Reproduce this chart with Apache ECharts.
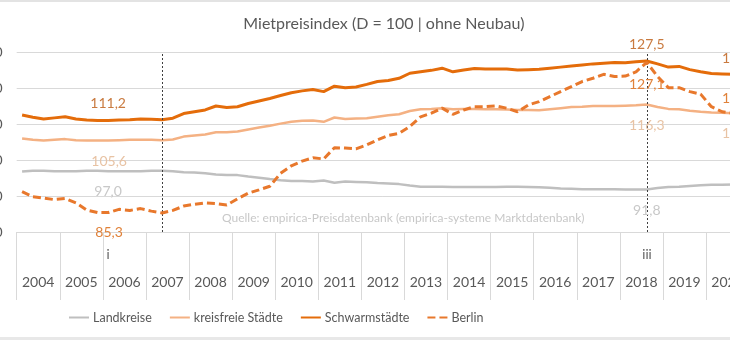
<!DOCTYPE html>
<html>
<head>
<meta charset="utf-8">
<script src="https://cdn.jsdelivr.net/npm/echarts@6/dist/echarts.min.js"></script>
<style>
html,body{margin:0;padding:0;background:#fff;overflow:hidden;width:730px;height:340px;}
#c{width:770px;height:340px;}
</style>
</head>
<body>
<div id="c"></div>
<script>
// ---- data ----
const years = ['2004','2005','2006','2007','2008','2009','2010','2011','2012','2013','2014','2015','2016','2017','2018','2019','2020'];
const yTicks = [80, 90, 100, 110, 120, 130];
// quarterly values 2004Q1 .. 2020Q4
const landkreise = [
  96.8, 97.0, 97.0, 96.9,  96.9, 96.9, 97.0, 97.0,  96.9, 96.9, 96.9, 96.9,  97.0, 97.0, 96.9, 96.6,
  96.5, 96.3, 96.0, 95.8,  95.8, 95.4, 95.1, 94.7,  94.4, 94.2, 94.2, 94.0,  94.3, 93.7, 94.0, 93.9,
  93.8, 93.6, 93.5, 93.3,  92.9, 92.6, 92.6, 92.6,  92.5, 92.5, 92.5, 92.5,  92.5, 92.6, 92.6, 92.5,
  92.4, 92.3, 92.1, 92.0,  91.9, 91.9, 91.9, 91.9,  91.8, 91.8, 91.8, 92.2,  92.5, 92.6, 92.8, 93.0,
  93.1, 93.1, 93.2, 93.2
];
const kreisfreie = [
  106.0, 105.6, 105.4, 105.6,  105.8, 105.5, 105.4, 105.4,  105.4, 105.5, 105.6, 105.6,  105.6, 105.5, 105.7, 106.5,
  106.8, 107.1, 107.7, 107.7,  107.9, 108.5, 109.0, 109.5,  110.1, 110.6, 110.9, 111.0,  110.6, 111.8, 111.4, 111.5,
  111.6, 112.0, 112.4, 112.7,  113.6, 114.1, 114.2, 114.4,  114.1, 114.2, 114.2, 114.1,  114.1, 114.0, 113.9, 113.9,
  113.8, 114.1, 114.4, 114.7,  114.8, 115.0, 115.0, 115.0,  115.1, 115.2, 115.4, 114.7,  114.2, 114.1, 113.7, 113.4,
  113.2, 113.1, 113.0, 112.9
];
const schwarm = [
  112.5, 111.9, 111.4, 111.7,  112.0, 111.4, 111.1, 111.0,  111.0, 111.1, 111.2, 111.4,  111.3, 111.2, 111.6, 112.9,
  113.4, 113.9, 115.0, 114.6,  114.8, 115.7, 116.4, 117.1,  117.9, 118.7, 119.2, 119.6,  119.0, 120.5, 120.1, 120.3,
  121.0, 121.8, 122.1, 122.7,  124.1, 124.5, 124.9, 125.5,  124.5, 125.0, 125.4, 125.3,  125.3, 125.3, 125.0, 125.1,
  125.2, 125.5, 125.8, 126.1,  126.4, 126.7, 126.9, 127.1,  127.0, 127.3, 127.5, 126.7,  125.8, 126.0, 125.1, 124.5,
  124.0, 123.9, 123.8, 123.8
];
const berlin = [
  91.2, 89.8, 89.4, 89.0,  89.3, 88.1, 86.1, 85.4,  85.4, 86.3, 86.0, 86.5,  85.8, 85.3, 86.0, 87.2,
  87.7, 88.1, 87.9, 87.5,  89.2, 90.8, 91.7, 92.7,  96.3, 98.4, 99.7, 100.6,  100.3, 103.4, 103.3, 103.1,
  104.2, 105.6, 106.8, 107.4,  109.3, 112.0, 113.0, 114.4,  112.7, 113.9, 114.8, 114.8,  115.0, 114.4, 113.4, 115.3,
  116.2, 117.6, 119.0, 120.4,  121.8, 122.7, 123.8, 123.2,  123.3, 124.5, 127.1, 123.2,  120.1, 120.1, 119.0, 118.3,
  114.8, 113.4, 113.0, 112.8
];
// time position of each quarter (decimal years, centre of the quarter)
const qx = [];
years.forEach(y => { for (let q = 1; q <= 4; q++) qx.push(+y + (q - 0.5) / 4); });
const idx2007 = 13;  // 2007 Q2
const idx2018 = 58;  // 2018 Q3
const idxEnd = qx.length - 1;

const labelTexts = {
  land:   ['97,0', '91,8', '93,2'],
  kreis:  ['105,6', '116,3', '112,9'],
  schw:   ['111,2', '127,5', '123,8'],
  berlin: ['85,3', '127,1', '113,0']
};

const C = {
  land: '#BFBFBF', kreis: '#F4B183', schw: '#E46C0A', berlin: '#E8782C',
  landL: '#C8C8C8', kreisL: '#E8C3A4', schwL: '#C97A3F', berlinL: '#E0823A',
  text: '#595959', grid: '#D9D9D9'
};

function pairs(v){ return qx.map((x,i)=>[x, v[i]]); }
function mp(v, texts, color, offs){
  const ids = [idx2007, idx2018, idxEnd];
  return {
    symbol: 'circle', symbolSize: 0, silent: true, animation: false,
    label: {show: true, color: color, fontFamily: 'Lato', fontSize: 14},
    data: ids.map((id, k) => ({
      coord: [qx[id], v[id]], value: texts[k],
      label: {formatter: texts[k], offset: offs[k]}
    }))
  };
}

const chart = echarts.init(document.getElementById('c'), null, {renderer: 'canvas'});
chart.setOption({
  animation: false,
  backgroundColor: '#ffffff',
  title: {
    text: 'Mietpreisindex (D = 100 | ohne Neubau)',
    left: 379, top: 11, textAlign: 'center',
    textStyle: {fontFamily: 'Lato', fontSize: 16, fontWeight: 'normal', color: C.text}
  },
  legend: {
    left: 68, top: 311, padding: 0, itemGap: 17, itemWidth: 20, itemHeight: 8,
    itemStyle: {opacity: 0},
    textStyle: {fontFamily: 'Lato', fontSize: 12.5, color: C.text, padding: [0,0,0,-1]},
    data: ['Landkreise', 'kreisfreie Städte', 'Schwarmstädte', 'Berlin']
  },
  grid: {left: 16.7, top: 52, width: 732.4, height: 180, containLabel: false, outerBoundsMode: 'none'},
  xAxis: [
    {type: 'value', min: 2004, max: 2021, show: false, position: 'top'},
    {type: 'category', data: years, position: 'bottom', boundaryGap: true,
     axisLine: {show: true, lineStyle: {color: C.grid, width: 1}},
     axisTick: {show: true, length: 68, lineStyle: {color: C.grid, width: 1}},
     axisLabel: {color: C.text, fontFamily: 'Lato', fontSize: 14, margin: 43, interval: 0},
     splitLine: {show: false}}
  ],
  yAxis: {
    type: 'value', min: yTicks[0], max: yTicks[yTicks.length-1], interval: 10,
    axisLine: {show: false}, axisTick: {show: false},
    axisLabel: {color: C.text, fontFamily: 'Lato', fontSize: 14, margin: 14},
    splitLine: {lineStyle: {color: C.grid, width: 1}}
  },
  series: [
    {name: 'Landkreise', type: 'line', data: pairs(landkreise), symbol: 'none', showSymbol: false,
     lineStyle: {color: C.land, width: 2.5}, itemStyle: {color: C.land}, z: 2,
     markPoint: mp(landkreise, labelTexts.land, C.landL, [[-54,21],[0,21],[0,20]]),
     markLine: {symbol: ['none','none'], silent: true, animation: false, label: {show: false},
       lineStyle: {type: [2,2], color: '#3f3f3f', width: 1},
       data: [{xAxis: qx[idx2007]}, {xAxis: qx[idx2018]}]}},
    {name: 'kreisfreie Städte', type: 'line', data: pairs(kreisfreie), symbol: 'none', showSymbol: false,
     lineStyle: {color: C.kreis, width: 2.5}, itemStyle: {color: C.kreis}, z: 3,
     markPoint: mp(kreisfreie, labelTexts.kreis, C.kreisL, [[-53,21],[0,21],[-4,20]])},
    {name: 'Schwarmstädte', type: 'line', data: pairs(schwarm), symbol: 'none', showSymbol: false,
     lineStyle: {color: C.schw, width: 3}, itemStyle: {color: C.schw}, z: 4,
     markPoint: mp(schwarm, labelTexts.schw, C.schwL, [[-54,-16],[0,-17],[-4,-16]])},
    {name: 'Berlin', type: 'line', data: pairs(berlin), symbol: 'none', showSymbol: false,
     lineStyle: {color: C.berlin, width: 3, type: [8,4]}, itemStyle: {color: C.berlin}, z: 5,
     markPoint: mp(berlin, labelTexts.berlin, C.berlinL, [[-53,20],[0,22],[-4,-15]])}
  ],
  graphic: [
    {type: 'rect', left: 0, top: 0, shape: {width: 770, height: 2}, style: {fill: '#E3E3E3'}, silent: true},
    {type: 'rect', left: 0, top: 337, shape: {width: 770, height: 3}, style: {fill: '#E8E8E8'}, silent: true},
    {type: 'text', left: 222, top: 212, silent: true,
     style: {text: 'Quelle: empirica-Preisdatenbank (empirica-systeme Marktdatenbank)', fill: '#C8C8C8',
             font: '12px Lato'}},
    {type: 'text', x: 108, y: 255, silent: true,
     style: {text: 'i', fill: C.text, font: '13px Lato', align: 'center', verticalAlign: 'middle'}},
    {type: 'text', x: 647, y: 255, silent: true,
     style: {text: 'iii', fill: C.text, font: '13px Lato', align: 'center', verticalAlign: 'middle'}}
  ]
});
</script>
</body>
</html>
